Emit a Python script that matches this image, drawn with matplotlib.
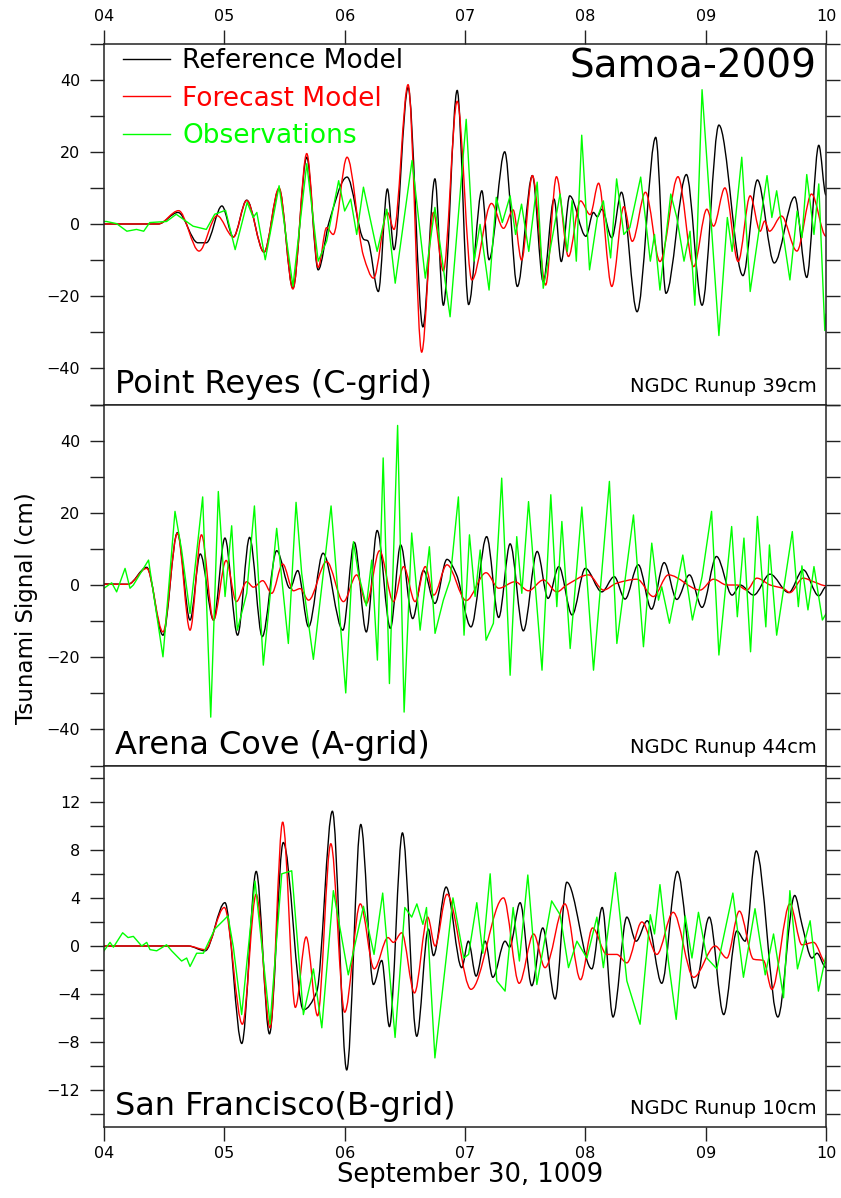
import numpy as np
import matplotlib
matplotlib.use("Agg")
import matplotlib.pyplot as plt
from matplotlib.path import Path
from matplotlib.patches import PathPatch
from matplotlib.lines import Line2D

plt.rcParams['font.family'] = ['DejaVu Sans']

# ---------------------------------------------------------------- data
# (hour of day, tsunami signal in cm)

# Point Reyes (C-grid)
pr_ref = [(4.00, 0.0), (4.45, 0.0), (4.615, 3.2), (4.78, -5.2), (4.85, -5.2), (4.98, 5.0),
          (5.075, -3.6), (5.186, 6.6), (5.33, -7.8), (5.455, 9.7), (5.57, -17.8), (5.685, 18.5),
          (5.78, -12.7), (5.87, 0.5), (6.02, 13.0), (6.16, -4.3), (6.19, -4.6), (6.28, -18.7),
          (6.355, 9.7), (6.41, -7.1), (6.527, 37.8), (6.65, -28.5), (6.75, 12.5), (6.82, -22.5),
          (6.935, 37.0), (7.03, -22.3), (7.14, 9.2), (7.20, -9.9), (7.33, 20.0), (7.435, -17.3),
          (7.56, 13.4), (7.65, -16.0), (7.74, 6.9), (7.80, -10.4), (7.87, 7.8), (8.005, -3.4),
          (8.067, 3.2), (8.10, 2.0), (8.137, 4.1), (8.22, -3.8), (8.30, 8.8), (8.43, -24.3),
          (8.585, 24.0), (8.67, -19.2), (8.84, 13.7), (8.97, -22.5), (9.11, 27.4), (9.31, -14.3),
          (9.43, 12.2), (9.57, -10.8), (9.74, 7.5), (9.84, -14.8), (9.94, 21.8), (10.0, 8.0)]
pr_fc = [(4.00, 0.0), (4.45, 0.0), (4.62, 3.7), (4.79, -7.5), (4.94, 2.3), (5.075, -3.6),
         (5.186, 6.5), (5.33, -7.8), (5.455, 10.0), (5.57, -18.0), (5.685, 19.5), (5.78, -12.0),
         (5.85, -1.0), (5.905, -2.9), (6.02, 18.5), (6.156, -8.8), (6.24, -15.0), (6.355, 3.2),
         (6.41, -1.5), (6.527, 38.6), (6.64, -35.5), (6.737, 3.2), (6.82, -13.0), (6.935, 34.0),
         (7.057, -15.5), (7.22, 5.7), (7.32, -1.2), (7.40, 3.9), (7.47, -10.0), (7.56, 13.4),
         (7.67, -16.9), (7.76, 13.1), (7.86, -9.0), (7.96, 6.4), (8.04, 2.6), (8.11, 11.3),
         (8.22, -17.3), (8.32, 4.8), (8.39, -4.8), (8.50, 8.8), (8.62, -10.4), (8.77, 13.1),
         (8.90, -11.8), (9.01, 4.1), (9.065, -0.6), (9.16, 10.0), (9.27, -10.4), (9.37, 7.8),
         (9.453, -2.0), (9.49, 0.8), (9.53, -2.0), (9.63, 2.2), (9.758, -7.5), (9.88, 8.3),
         (10.0, -3.4)]
pr_obs = [(4.00, 0.7), (4.02, 0.7), (4.105, 0.1), (4.19, -2.0), (4.27, -1.5), (4.33, -2.0),
          (4.38, 0.4), (4.52, 0.7), (4.60, 2.7), (4.74, -0.6), (4.85, -1.5), (4.92, 2.7),
          (5.01, 3.8), (5.09, -7.1), (5.19, 6.0), (5.24, 1.8), (5.27, 3.2), (5.34, -9.9),
          (5.455, 10.6), (5.57, -17.3), (5.685, 16.7), (5.78, -10.3), (5.85, -4.8), (5.95, 12.0),
          (6.00, 3.6), (6.05, 6.9), (6.10, -2.9), (6.156, 10.2), (6.27, -7.6), (6.35, 4.1),
          (6.42, -16.4), (6.56, 17.6), (6.67, -15.0), (6.75, 4.6), (6.876, -25.7), (7.01, 29.0),
          (7.075, -10.3), (7.125, -0.1), (7.20, -18.3), (7.26, 7.4), (7.31, 0.4), (7.375, 7.8),
          (7.42, -2.9), (7.47, 5.5), (7.53, -7.6), (7.60, 11.6), (7.65, -17.8), (7.72, -4.8),
          (7.79, 8.3), (7.85, -7.6), (7.89, 6.5), (7.925, -10.3), (7.97, 24.6), (8.035, -12.7),
          (8.10, 1.8), (8.15, 6.4), (8.21, -9.4), (8.26, 12.5), (8.32, -2.9), (8.37, -1.0),
          (8.46, 13.0), (8.54, -10.3), (8.575, -2.9), (8.62, -18.3), (8.71, 8.3), (8.76, 1.8),
          (8.82, -10.3), (8.87, -2.0), (8.91, -22.5), (8.97, 37.2), (9.11, -30.9), (9.18, 1.8),
          (9.22, -7.6), (9.30, 18.5), (9.37, -18.7), (9.43, -4.8), (9.51, 13.4), (9.55, 1.8),
          (9.59, 9.2), (9.70, -15.5), (9.76, 3.6), (9.80, -3.8), (9.84, 13.7), (9.90, -2.9),
          (9.94, 11.1), (9.99, -29.5), (10.0, -25.0)]

# Arena Cove (A-grid)
ac_ref = [(4.00, 0.3), (4.20, 0.2), (4.355, 4.9), (4.49, -13.9), (4.61, 14.5), (4.715, -9.7),
          (4.80, 8.6), (4.91, -9.7), (5.005, 13.0), (5.11, -13.9), (5.21, 13.2), (5.315, -14.3),
          (5.435, 9.5), (5.546, -0.9), (5.61, 4.0), (5.70, -11.6), (5.82, 8.8), (5.985, -12.5),
          (6.08, 11.8), (6.18, -13.0), (6.27, 15.1), (6.38, -12.0), (6.465, 11.1), (6.565, -9.3),
          (6.655, 4.0), (6.75, -5.1), (6.85, 7.1), (6.93, 2.8), (7.05, -11.6), (7.18, 13.4),
          (7.28, -9.0), (7.375, 11.4), (7.485, -12.7), (7.60, 9.3), (7.69, -3.7), (7.78, 5.1),
          (7.89, -8.3), (8.00, 4.6), (8.137, -1.9), (8.24, 2.3), (8.33, -3.9), (8.44, 5.6),
          (8.55, -6.7), (8.655, 6.2), (8.76, -4.0), (8.865, 2.8), (8.97, -6.2), (9.09, 7.9),
          (9.22, -2.8), (9.287, 0.0), (9.398, -2.8), (9.535, 3.0), (9.69, -2.1), (9.81, 4.2),
          (9.94, -3.0), (10.0, -0.5)]
ac_fc = [(4.00, 0.2), (4.20, 0.2), (4.355, 4.6), (4.49, -13.0), (4.61, 14.3), (4.715, -12.5),
         (4.81, 13.9), (4.91, -9.7), (5.015, 6.8), (5.10, -4.6), (5.186, 0.9), (5.241, -0.6),
         (5.319, 1.2), (5.394, -2.3), (5.485, 5.8), (5.574, -1.6), (5.63, -1.0), (5.70, -4.2),
         (5.85, 6.5), (5.99, -4.6), (6.10, 2.8), (6.18, -5.1), (6.29, 9.5), (6.405, -4.6),
         (6.49, 5.1), (6.585, -4.6), (6.67, 5.1), (6.74, -2.8), (6.85, 5.6), (7.01, -4.3),
         (7.175, 3.4), (7.28, -0.9), (7.416, 0.9), (7.527, -1.6), (7.652, 1.4), (7.763, -1.9),
         (7.846, 0.0), (8.027, 2.8), (8.151, -1.4), (8.26, 0.5), (8.43, 1.6), (8.565, -3.2),
         (8.69, 2.8), (8.954, -1.4), (9.065, 1.6), (9.176, 0.0), (9.26, 0.0), (9.342, -1.4),
         (9.425, 1.9), (9.536, 0.0), (9.647, -1.0), (9.70, -2.1), (9.81, 1.9), (9.897, 0.9),
         (10.0, -0.2)]
ac_obs = [(4.00, -0.9), (4.064, 0.6), (4.105, -1.9), (4.175, 4.6), (4.216, -0.9), (4.244, 0.0),
          (4.37, 6.9), (4.49, -19.9), (4.59, 20.4), (4.645, 9.7), (4.715, -7.9), (4.82, 24.4),
          (4.887, -36.6), (4.95, 25.9), (5.006, -3.2), (5.061, 16.4), (5.108, -12.5), (5.186, -2.3),
          (5.25, 21.9), (5.324, -22.2), (5.435, 15.7), (5.532, -16.2), (5.596, 22.9), (5.643, 3.2),
          (5.74, -20.6), (5.887, 21.9), (6.009, -29.9), (6.073, 12.0), (6.114, 3.2), (6.18, -5.8),
          (6.225, 6.9), (6.272, -20.8), (6.32, 35.2), (6.372, -27.3), (6.44, 44.2), (6.494, -35.2),
          (6.557, 14.4), (6.627, -12.5), (6.704, 10.6), (6.751, -13.4), (6.82, -4.2), (6.876, 1.4),
          (6.945, 24.4), (6.992, -13.9), (7.037, 13.9), (7.084, -3.2), (7.126, 9.7), (7.175, -15.3),
          (7.236, -10.6), (7.305, 29.6), (7.375, -25.0), (7.43, 13.4), (7.472, -2.3), (7.528, 23.1),
          (7.64, -23.6), (7.713, 25.0), (7.763, -6.0), (7.805, 17.6), (7.874, -17.6), (7.971, 21.6),
          (8.068, -23.6), (8.20, 28.7), (8.262, -16.2), (8.40, 19.4), (8.483, -17.1), (8.552, 11.6),
          (8.608, -4.2), (8.635, -0.5), (8.699, -10.6), (8.81, 8.3), (8.89, -9.7), (8.97, 2.3),
          (9.049, 20.4), (9.11, -19.4), (9.216, 16.2), (9.263, -8.8), (9.318, 13.0), (9.373, -18.5),
          (9.43, 19.0), (9.50, -11.6), (9.53, 11.1), (9.59, -13.9), (9.72, 14.8), (9.77, -6.0),
          (9.80, 5.3), (9.85, -6.9), (9.90, 5.1), (9.97, -9.7), (10.0, -8.0)]

# San Francisco (B-grid)
sf_ref = [(4.00, 0.0), (4.70, 0.0), (4.84, -0.4), (5.005, 3.6), (5.145, -8.1), (5.265, 6.2),
          (5.375, -7.3), (5.49, 8.6), (5.657, -5.3), (5.768, -3.8), (5.898, 11.2), (6.017, -10.3),
          (6.134, 10.1), (6.239, -3.2), (6.308, -1.2), (6.372, -6.7), (6.48, 9.4), (6.599, -7.5),
          (6.696, 1.4), (6.738, -0.8), (6.843, 4.9), (6.973, -1.8), (7.028, 0.4), (7.092, -2.5),
          (7.167, 0.4), (7.231, -2.6), (7.333, 0.4), (7.37, -0.1), (7.458, 3.6), (7.555, -3.3),
          (7.646, 1.5), (7.749, -4.4), (7.846, 5.3), (8.054, -1.9), (8.14, 3.2), (8.23, -5.9),
          (8.345, 2.4), (8.422, 0.4), (8.515, 2.1), (8.635, -3.1), (8.765, 6.2), (8.91, -3.5),
          (9.03, 2.4), (9.15, -5.7), (9.259, 1.25), (9.328, 0.4), (9.42, 7.9), (9.60, -5.9),
          (9.74, 4.2), (9.80, 1.8), (9.883, -1.0), (9.925, -0.6), (10.0, -1.8)]
sf_fc = [(4.00, 0.0), (4.70, 0.0), (4.84, -0.3), (5.00, 3.2), (5.15, -6.5), (5.265, 4.3),
         (5.38, -6.8), (5.485, 10.3), (5.59, -5.1), (5.68, 0.75), (5.775, -5.8), (5.885, 8.5),
         (6.00, -5.5), (6.13, 3.5), (6.245, -1.9), (6.36, 0.7), (6.405, 0.3), (6.474, 1.1),
         (6.58, -3.9), (6.69, 2.4), (6.751, 0.0), (6.85, 4.3), (7.05, -3.6), (7.32, 4.0),
         (7.45, -3.1), (7.57, 1.0), (7.665, -1.8), (7.83, 3.5), (7.96, -2.8), (8.06, 1.5),
         (8.178, -0.7), (8.261, -0.7), (8.345, -1.4), (8.47, 2.0), (8.594, -0.7), (8.73, 2.8),
         (8.90, -2.6), (9.079, 0.0), (9.176, -1.0), (9.28, 2.9), (9.398, -1.1), (9.48, -1.2),
         (9.55, -3.6), (9.70, 3.5), (9.80, 0.1), (9.897, 0.3), (10.0, -1.4)]
sf_obs = [(4.00, -0.4), (4.05, 0.3), (4.078, -0.1), (4.155, 1.1), (4.20, 0.7), (4.244, 0.8),
          (4.313, 0.0), (4.355, 0.3), (4.382, -0.3), (4.438, -0.4), (4.52, 0.1), (4.562, -0.4),
          (4.645, -1.25), (4.687, -1.0), (4.715, -1.7), (4.77, -0.6), (4.826, -0.6), (4.92, 1.4),
          (5.03, 2.5), (5.075, -0.1), (5.144, -5.7), (5.255, 5.4), (5.38, -6.5), (5.477, 6.0),
          (5.56, 6.25), (5.657, -5.7), (5.74, -1.9), (5.81, -6.8), (5.906, 4.6), (6.03, -2.4),
          (6.156, 3.3), (6.244, -0.7), (6.316, 4.4), (6.419, -7.6), (6.50, 3.2), (6.557, 2.4),
          (6.60, 3.5), (6.65, 1.8), (6.68, 3.2), (6.75, -9.3), (6.90, 4.0), (6.99, -1.0),
          (7.03, -0.7), (7.098, 3.6), (7.148, -0.6), (7.209, 6.0), (7.264, -2.9), (7.333, -3.75),
          (7.40, 3.2), (7.452, -1.25), (7.522, 5.9), (7.597, -3.2), (7.72, 3.75), (7.79, 2.6),
          (7.86, -1.8), (7.93, 0.4), (8.013, -1.0), (8.096, 2.4), (8.15, -1.8), (8.25, 6.1),
          (8.345, -2.9), (8.455, -6.5), (8.54, 2.6), (8.575, 1.0), (8.62, 5.1), (8.69, -1.25),
          (8.755, -6.1), (8.83, 2.5), (8.886, -1.0), (8.94, 2.8), (9.01, -1.0), (9.093, -1.9),
          (9.226, 4.4), (9.314, -2.6), (9.41, 3.1), (9.495, -2.4), (9.564, 1.0), (9.647, -4.3),
          (9.70, 4.6), (9.763, -1.9), (9.868, 2.1), (9.937, -3.75), (10.0, -0.8)]

panel_names = ["Point Reyes (C-grid)", "Arena Cove (A-grid)", "San Francisco(B-grid)"]
runup_notes = ["NGDC Runup 39cm", "NGDC Runup 44cm", "NGDC Runup 10cm"]
series_labels = ["Reference Model", "Forecast Model", "Observations"]
hour_ticks = [4, 5, 6, 7, 8, 9, 10]
hour_labels = ["04", "05", "06", "07", "08", "09", "10"]
big_ticks = list(range(-50, 51, 10))
small_ticks = list(range(-14, 15, 2))


def tick_text(v, every):
    if v % every:
        return ""
    return ("\u2212" + str(-v)) if v < 0 else str(v)


big_labels = [tick_text(v, 20) for v in big_ticks]
small_labels = [tick_text(v, 4) for v in small_ticks]

C_REF, C_FC, C_OBS = "#000000", "#ff0000", "#00ff00"


def smooth_path(pts):
    """Monotone cubic Bezier path through the given (t, v) points."""
    t = np.array([p[0] for p in pts], float)
    v = np.array([p[1] for p in pts], float)
    d = np.diff(v) / np.diff(t)
    m = np.zeros(len(t))
    for i in range(1, len(t) - 1):
        if d[i - 1] * d[i] > 0:
            m[i] = 2 * d[i - 1] * d[i] / (d[i - 1] + d[i])
    verts = [(t[0], v[0])]
    codes = [Path.MOVETO]
    for i in range(len(t) - 1):
        h = t[i + 1] - t[i]
        verts += [(t[i] + h / 3, v[i] + m[i] * h / 3),
                  (t[i + 1] - h / 3, v[i + 1] - m[i + 1] * h / 3),
                  (t[i + 1], v[i + 1])]
        codes += [Path.CURVE4] * 3
    return Path(verts, codes)


fig = plt.figure(figsize=(8.41, 11.98), dpi=100)
left, width, h = 104 / 841, 722 / 841, 361 / 1198
bottoms = [1 - 404.5 / 1198, 1 - 765.5 / 1198, 1 - 1126.5 / 1198]

panels = [(pr_ref, pr_fc, pr_obs, 50, big_ticks, big_labels),
          (ac_ref, ac_fc, ac_obs, 50, big_ticks, big_labels),
          (sf_ref, sf_fc, sf_obs, 15, small_ticks, small_labels)]

axes = []
for k, (ref, fc, obs, lim, yt, yl) in enumerate(panels):
    ax = fig.add_axes([left, bottoms[k], width, h])
    axes.append(ax)
    ax.set_xlim(4, 10)
    ax.set_ylim(-lim, lim)
    ax.plot([p[0] for p in obs], [p[1] for p in obs], color=C_OBS, lw=1.0)
    ax.add_patch(PathPatch(smooth_path(ref), fill=False, edgecolor=C_REF, lw=1.0))
    ax.add_patch(PathPatch(smooth_path(fc), fill=False, edgecolor=C_FC, lw=1.0))
    ax.set_yticks(yt, yl)
    ax.set_xticks(hour_ticks, hour_labels)
    for s in ax.spines.values():
        s.set_linewidth(1.1)
        s.set_color("#222222")
    ax.tick_params(axis="y", direction="out", length=10, width=1.0, color="#222222",
                   left=True, right=True, labelleft=True, labelright=False,
                   labelsize=11.5, pad=7)
    ax.tick_params(axis="x", direction="out", length=10, width=1.0, color="#222222",
                   top=(k == 0), labeltop=(k == 0), bottom=(k == 2), labelbottom=(k == 2),
                   labelsize=11.5, pad=4)
    ax.text(0.015, 0.032, panel_names[k], transform=ax.transAxes, fontsize=23,
            ha="left", va="baseline")
    ax.text(0.9875, 0.035, runup_notes[k], transform=ax.transAxes, fontsize=14,
            ha="right", va="baseline")

ax0 = axes[0]
ax0.text(0.9875, 0.988, "Samoa-2009", transform=ax0.transAxes, fontsize=28,
         ha="right", va="top")
handles = [Line2D([], [], color=c, lw=1.0) for c in (C_REF, C_FC, C_OBS)]
ax0.legend(handles, series_labels, loc="upper left", bbox_to_anchor=(0.026, 0.987),
           frameon=False, fontsize=19, labelcolor="linecolor", handlelength=1.8,
           handletextpad=0.45, labelspacing=0.43, borderpad=0, borderaxespad=0)

fig.text(0.032, 0.492, "Tsunami Signal (cm)", rotation=90, fontsize=16.5,
         ha="center", va="center")
fig.text(0.559, 0.019, "September 30, 1009", fontsize=18.5, ha="center", va="center")

fig.savefig("out.png", dpi=100)
